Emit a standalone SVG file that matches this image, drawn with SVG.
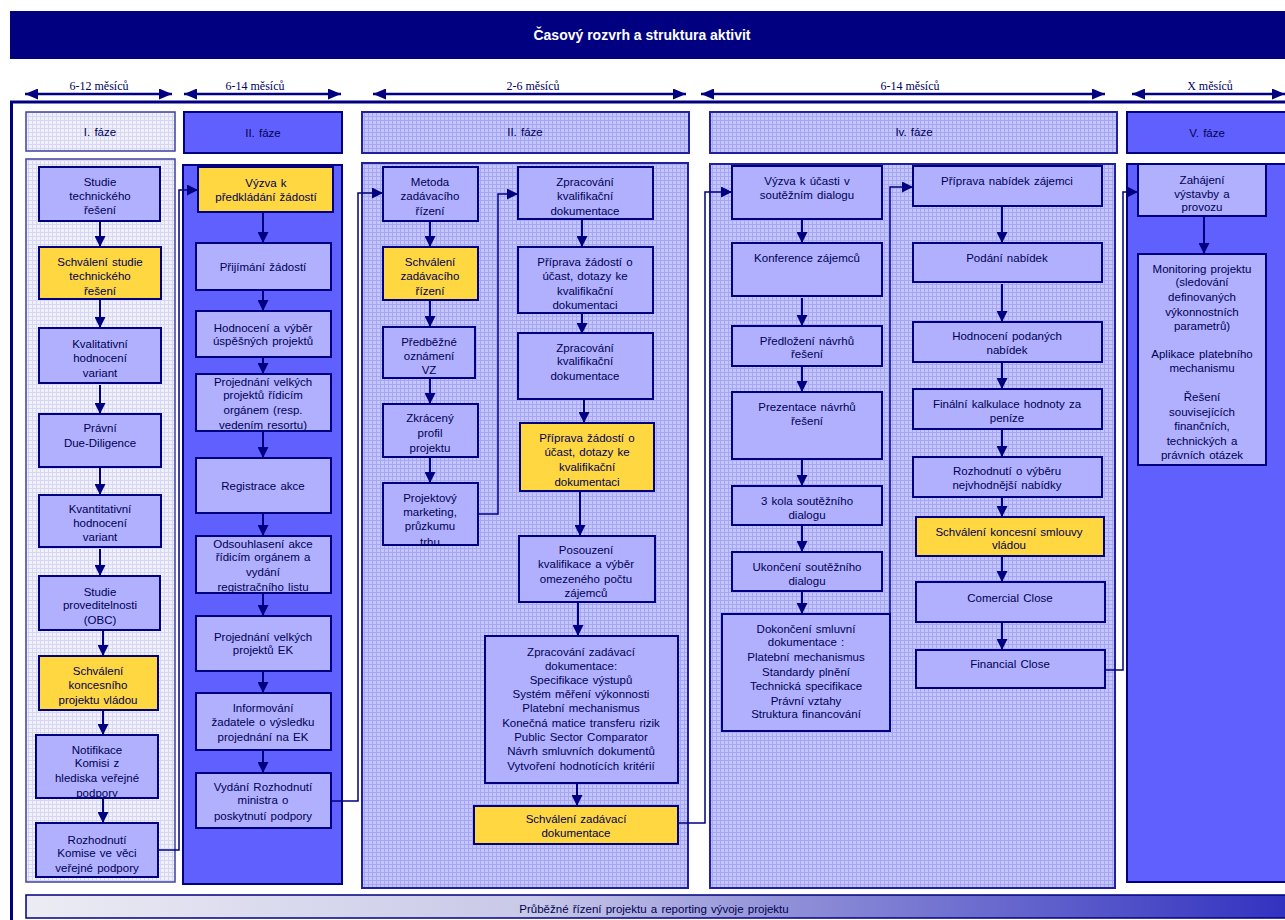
<svg xmlns="http://www.w3.org/2000/svg" width="1285" height="920" viewBox="0 0 1285 920">
<defs>
<style>
.t{font-family:"Liberation Sans",Arial,sans-serif;font-size:11.5px;word-spacing:1px;fill:#000050;text-anchor:middle}
.tl{font-family:"Liberation Serif","Times New Roman",serif;font-size:12px;fill:#000060;text-anchor:middle}
.n{fill:#B0B0FF;stroke:#000080;stroke-width:2}
.y{fill:#FFD740;stroke:#000080;stroke-width:2}
.a{fill:none;stroke:#000080;stroke-width:2;marker-end:url(#ah)}
.c{fill:none;stroke:#000080;stroke-width:1.5;marker-end:url(#ah)}
.tla{fill:none;stroke:#000080;stroke-width:2.5;marker-start:url(#tah);marker-end:url(#tah)}
.g1{fill:url(#p1);stroke:#4040A0;stroke-width:1.5}
.g2{fill:#6060FF;stroke:#000080;stroke-width:2}
.g3{fill:url(#p3);stroke:#2020A0;stroke-width:2}
</style>
<pattern id="p1" width="4" height="4" patternUnits="userSpaceOnUse"><rect width="4" height="4" fill="#F1F1FC"/><path d="M0,0.5H4M0.5,0V4" stroke="#D6D6F2" stroke-width="1"/></pattern>
<pattern id="p3" width="4" height="4" patternUnits="userSpaceOnUse"><rect width="4" height="4" fill="#C6C6FF"/><path d="M0,0.5H4M0.5,0V4" stroke="#A6A6F2" stroke-width="1"/></pattern>
<linearGradient id="bar" x1="0" y1="0" x2="1" y2="0"><stop offset="0" stop-color="#ECECF4"/><stop offset="0.4" stop-color="#C8C8E8"/><stop offset="0.6" stop-color="#9090D8"/><stop offset="1" stop-color="#3030C0"/></linearGradient>
<marker id="ah" viewBox="0 0 10 10" refX="10" refY="5" markerWidth="11" markerHeight="11" markerUnits="userSpaceOnUse" orient="auto"><path d="M0,0L10,5L0,10z" fill="#000080"/></marker>
<marker id="tah" viewBox="0 0 13 11" refX="13" refY="5.5" markerWidth="13" markerHeight="11" markerUnits="userSpaceOnUse" orient="auto-start-reverse"><path d="M0,0L13,5.5L0,11z" fill="#000080"/></marker>
</defs>
<rect width="1285" height="920" fill="#FFFFFF"/>
<g id="title">
<rect x="10" y="11" width="1280" height="48" fill="#000080"/>
<text x="642" y="40" style="font-family:'Liberation Sans',Arial,sans-serif;font-size:14px;font-weight:bold;fill:#FFFFFF;text-anchor:middle">Časový rozvrh a struktura aktivit</text>
</g>
<g id="timeline">
<path class="tla" d="M25,94H172"/><text class="tl" x="99" y="90">6-12 měsíců</text>
<path class="tla" d="M184,94H341"/><text class="tl" x="255" y="90">6-14 měsíců</text>
<path class="tla" d="M373,94H686"/><text class="tl" x="533" y="90">2-6 měsíců</text>
<path class="tla" d="M701,94H1105"/><text class="tl" x="910" y="90">6-14 měsíců</text>
<path class="tla" d="M1132,94H1285"/><text class="tl" x="1210" y="90">X měsíců</text>
</g>
<path id="frame" d="M11.5,921V102H1290" fill="none" stroke="#000080" stroke-width="3"/>
<g id="phases">
<rect class="g1" x="26" y="112" width="149" height="39"/><text class="t" x="100" y="136">I. fáze</text>
<rect class="g2" x="184" y="112" width="158" height="41"/><text class="t" x="263" y="137">II. fáze</text>
<rect class="g3" x="362" y="112" width="327" height="41"/><text class="t" x="525" y="136">II. fáze</text>
<rect class="g3" x="710" y="112" width="407" height="41"/><text class="t" x="914" y="136">Iv. fáze</text>
<rect class="g2" x="1127" y="112" width="170" height="41"/><text class="t" x="1207" y="137">V. fáze</text>
</g>
<g id="columns">
<rect class="g1" x="26" y="159" width="149" height="723"/>
<rect class="g2" x="183" y="165" width="159" height="719"/>
<rect class="g3" x="362" y="163" width="326" height="725"/>
<rect class="g3" x="710" y="164" width="405" height="724"/>
<rect class="g2" x="1127" y="164" width="170" height="718"/>
</g>
<g id="bottom-bar">
<rect x="26" y="895" width="1270" height="23" fill="url(#bar)" stroke="#000080" stroke-width="1.5"/>
<text class="t" x="654" y="913">Průběžné řízení projektu a reporting vývoje projektu</text>
</g>
<g id="connectors">
<path class="a" d="M100,221V247"/>
<path class="a" d="M100,299V328"/>
<path class="a" d="M100,385V414"/>
<path class="a" d="M100,468V495"/>
<path class="a" d="M100,549V576"/>
<path class="a" d="M103,630V656"/>
<path class="a" d="M103,710V735"/>
<path class="a" d="M103,798V823"/>
<path class="a" d="M263,213V243"/>
<path class="a" d="M263,278V311"/>
<path class="a" d="M263,347V374"/>
<path class="a" d="M263,431V458"/>
<path class="a" d="M263,513V536"/>
<path class="a" d="M263,593V616"/>
<path class="a" d="M263,671V693"/>
<path class="a" d="M263,750V773"/>
<path class="a" d="M430,221V247"/>
<path class="a" d="M430,300V327"/>
<path class="a" d="M430,378V404"/>
<path class="a" d="M430,457V483"/>
<path class="a" d="M582,219V247"/>
<path class="a" d="M582,312V334"/>
<path class="a" d="M584,399V423"/>
<path class="a" d="M580,491V536"/>
<path class="a" d="M578,602V636"/>
<path class="a" d="M577,783V806"/>
<path class="a" d="M802,219V243"/>
<path class="a" d="M802,298V326"/>
<path class="a" d="M802,366V392"/>
<path class="a" d="M802,459V486"/>
<path class="a" d="M802,525V552"/>
<path class="a" d="M802,591V614"/>
<path class="a" d="M1002,206V243"/>
<path class="a" d="M1002,284V322"/>
<path class="a" d="M1002,362V389"/>
<path class="a" d="M1002,429V457"/>
<path class="a" d="M1002,497V517"/>
<path class="a" d="M1002,556V582"/>
<path class="a" d="M1002,622V650"/>
<path class="a" d="M1204,216V254"/>
<path class="c" d="M158,850H179V190H198"/>
<path class="c" d="M331,801H358V193H383"/>
<path class="c" d="M478,514H498V194H518"/>
<path class="c" d="M678,823H705V192H732"/>
<path class="c" d="M890,614V187H913"/>
<path class="c" d="M1105,670H1123V192H1138"/>
</g>
<g id="n-studie"><rect class="n" x="39" y="167" width="121" height="54"/><text class="t"><tspan x="100" y="186">Studie</tspan><tspan x="100" y="200">technického</tspan><tspan x="100" y="214">řešení</tspan></text></g>
<g id="n-schvaleni-studie"><rect class="y" x="39" y="247" width="122" height="52"/><text class="t"><tspan x="100" y="266">Schválení studie</tspan><tspan x="100" y="280">technického</tspan><tspan x="100" y="295">řešení</tspan></text></g>
<g id="n-kvalitativni"><rect class="n" x="39" y="328" width="122" height="55"/><text class="t"><tspan x="100" y="348">Kvalitativní</tspan><tspan x="100" y="362">hodnocení</tspan><tspan x="100" y="377">variant</tspan></text></g>
<g id="n-pravni"><rect class="n" x="39" y="414" width="122" height="53"/><text class="t"><tspan x="100" y="432">Právní</tspan><tspan x="100" y="447">Due-Diligence</tspan></text></g>
<g id="n-kvantitativni"><rect class="n" x="39" y="495" width="122" height="52"/><text class="t"><tspan x="100" y="513">Kvantitativní</tspan><tspan x="100" y="527">hodnocení</tspan><tspan x="100" y="541">variant</tspan></text></g>
<g id="n-proveditelnost"><rect class="n" x="39" y="576" width="121" height="54"/><text class="t"><tspan x="100" y="596">Studie</tspan><tspan x="100" y="609">proveditelnosti</tspan><tspan x="100" y="624">(OBC)</tspan></text></g>
<g id="n-schvaleni-koncesniho"><rect class="y" x="39" y="656" width="119" height="54"/><text class="t"><tspan x="98" y="675">Schválení</tspan><tspan x="98" y="689">koncesního</tspan><tspan x="98" y="704">projektu vládou</tspan></text></g>
<g id="n-notifikace"><rect class="n" x="36" y="735" width="122" height="63"/><text class="t"><tspan x="97" y="754">Notifikace</tspan><tspan x="97" y="767">Komisi z</tspan><tspan x="97" y="782">hlediska veřejné</tspan><tspan x="97" y="797">podpory</tspan></text></g>
<g id="n-rozhodnuti-komise"><rect class="n" x="36" y="823" width="122" height="54"/><text class="t"><tspan x="97" y="844">Rozhodnutí</tspan><tspan x="97" y="857">Komise ve věci</tspan><tspan x="97" y="872">veřejné podpory</tspan></text></g>
<g id="n-vyzva"><rect class="y" x="198" y="167" width="135" height="45"/><text class="t"><tspan x="266" y="187">Výzva k</tspan><tspan x="266" y="201">předkládání žádostí</tspan></text></g>
<g id="n-prijimani"><rect class="n" x="196" y="243" width="135" height="47"/><text class="t"><tspan x="263" y="271">Přijímání žádostí</tspan></text></g>
<g id="n-hodnoceni-vyber"><rect class="n" x="196" y="311" width="135" height="46"/><text class="t"><tspan x="263" y="332">Hodnocení a výběr</tspan><tspan x="263" y="345">úspěšných projektů</tspan></text></g>
<g id="n-projednani-ro"><rect class="n" x="196" y="374" width="135" height="57"/><text class="t"><tspan x="263" y="386">Projednání velkých</tspan><tspan x="263" y="399">projektů řídicím</tspan><tspan x="263" y="414">orgánem (resp.</tspan><tspan x="263" y="429">vedením resortu)</tspan></text></g>
<g id="n-registrace"><rect class="n" x="196" y="458" width="135" height="55"/><text class="t"><tspan x="263" y="490">Registrace akce</tspan></text></g>
<g id="n-odsouhlaseni"><rect class="n" x="196" y="536" width="135" height="57"/><text class="t"><tspan x="263" y="548">Odsouhlasení akce</tspan><tspan x="263" y="561">řídicím orgánem a</tspan><tspan x="263" y="576">vydání</tspan><tspan x="263" y="591">registračního listu</tspan></text></g>
<g id="n-projednani-ek"><rect class="n" x="196" y="616" width="135" height="55"/><text class="t"><tspan x="263" y="641">Projednání velkých</tspan><tspan x="263" y="654">projektů EK</tspan></text></g>
<g id="n-informovani"><rect class="n" x="196" y="693" width="135" height="57"/><text class="t"><tspan x="263" y="712">Informování</tspan><tspan x="263" y="726">žadatele o výsledku</tspan><tspan x="263" y="741">projednání na EK</tspan></text></g>
<g id="n-vydani"><rect class="n" x="196" y="773" width="135" height="55"/><text class="t"><tspan x="263" y="791">Vydání Rozhodnutí</tspan><tspan x="263" y="804">ministra o</tspan><tspan x="263" y="820">poskytnutí podpory</tspan></text></g>
<g id="n-metoda"><rect class="n" x="383" y="167" width="95" height="54"/><text class="t"><tspan x="430" y="186">Metoda</tspan><tspan x="430" y="200">zadávacího</tspan><tspan x="430" y="215">řízení</tspan></text></g>
<g id="n-schvaleni-zadavaciho"><rect class="y" x="383" y="247" width="95" height="53"/><text class="t"><tspan x="430" y="266">Schválení</tspan><tspan x="430" y="280">zadávacího</tspan><tspan x="430" y="295">řízení</tspan></text></g>
<g id="n-predbezne"><rect class="n" x="383" y="327" width="92" height="51"/><text class="t"><tspan x="429" y="346">Předběžné</tspan><tspan x="429" y="360">oznámení</tspan><tspan x="429" y="374">VZ</tspan></text></g>
<g id="n-zkraceny"><rect class="n" x="383" y="404" width="95" height="53"/><text class="t"><tspan x="430" y="422">Zkrácený</tspan><tspan x="430" y="437">profil</tspan><tspan x="430" y="452">projektu</tspan></text></g>
<g id="n-marketing"><rect class="n" x="383" y="483" width="95" height="62"/><text class="t"><tspan x="430" y="502">Projektový</tspan><tspan x="430" y="516">marketing,</tspan><tspan x="430" y="530">průzkumu</tspan><tspan x="430" y="546">trhu</tspan></text></g>
<g id="n-zpracovani-kval-1"><rect class="n" x="518" y="167" width="135" height="52"/><text class="t"><tspan x="585" y="186">Zpracování</tspan><tspan x="585" y="200">kvalifikační</tspan><tspan x="585" y="215">dokumentace</tspan></text></g>
<g id="n-priprava-1"><rect class="n" x="518" y="247" width="135" height="66"/><text class="t"><tspan x="585" y="266">Příprava žádostí o</tspan><tspan x="585" y="280">účast, dotazy ke</tspan><tspan x="585" y="295">kvalifikační</tspan><tspan x="585" y="309">dokumentaci</tspan></text></g>
<g id="n-zpracovani-kval-2"><rect class="n" x="518" y="333" width="135" height="66"/><text class="t"><tspan x="585" y="352">Zpracování</tspan><tspan x="585" y="365">kvalifikační</tspan><tspan x="585" y="380">dokumentace</tspan></text></g>
<g id="n-priprava-2"><rect class="y" x="520" y="423" width="134" height="68"/><text class="t"><tspan x="587" y="442">Příprava žádostí o</tspan><tspan x="587" y="456">účast, dotazy ke</tspan><tspan x="587" y="471">kvalifikační</tspan><tspan x="587" y="486">dokumentaci</tspan></text></g>
<g id="n-posouzeni"><rect class="n" x="519" y="536" width="136" height="66"/><text class="t"><tspan x="586" y="554">Posouzení</tspan><tspan x="586" y="568">kvalifikace a výběr</tspan><tspan x="586" y="583">omezeného počtu</tspan><tspan x="586" y="597">zájemců</tspan></text></g>
<g id="n-zadavaci-dokumentace"><rect class="n" x="485" y="636" width="193" height="147"/><text class="t"><tspan x="581" y="656">Zpracování zadávací</tspan><tspan x="581" y="670">dokumentace:</tspan><tspan x="581" y="684">Specifikace výstupů</tspan><tspan x="581" y="698">Systém měření výkonnosti</tspan><tspan x="581" y="712">Platební mechanismus</tspan><tspan x="581" y="727">Konečná matice transferu rizik</tspan><tspan x="581" y="741">Public Sector Comparator</tspan><tspan x="581" y="755">Návrh smluvních dokumentů</tspan><tspan x="581" y="770">Vytvoření hodnotících kritérií</tspan></text></g>
<g id="n-schvaleni-zadavaci-dok"><rect class="y" x="474" y="806" width="204" height="38"/><text class="t"><tspan x="576" y="823">Schválení zadávací</tspan><tspan x="576" y="837">dokumentace</tspan></text></g>
<g id="n-vyzva-ucasti"><rect class="n" x="732" y="166" width="150" height="53"/><text class="t"><tspan x="807" y="185">Výzva k účasti v</tspan><tspan x="807" y="199">soutěžním dialogu</tspan></text></g>
<g id="n-konference"><rect class="n" x="732" y="243" width="150" height="53"/><text class="t"><tspan x="807" y="262">Konference zájemců</tspan></text></g>
<g id="n-predlozeni"><rect class="n" x="732" y="326" width="150" height="40"/><text class="t"><tspan x="807" y="345">Předložení návrhů</tspan><tspan x="807" y="358">řešení</tspan></text></g>
<g id="n-prezentace"><rect class="n" x="732" y="392" width="150" height="67"/><text class="t"><tspan x="807" y="411">Prezentace návrhů</tspan><tspan x="807" y="425">řešení</tspan></text></g>
<g id="n-3-kola"><rect class="n" x="732" y="486" width="150" height="39"/><text class="t"><tspan x="807" y="505">3 kola soutěžního</tspan><tspan x="807" y="519">dialogu</tspan></text></g>
<g id="n-ukonceni"><rect class="n" x="732" y="552" width="150" height="39"/><text class="t"><tspan x="807" y="571">Ukončení soutěžního</tspan><tspan x="807" y="585">dialogu</tspan></text></g>
<g id="n-dokonceni"><rect class="n" x="722" y="614" width="168" height="117"/><text class="t"><tspan x="806" y="633">Dokončení smluvní</tspan><tspan x="806" y="646">dokumentace :</tspan><tspan x="806" y="661">Platební mechanismus</tspan><tspan x="806" y="676">Standardy plnění</tspan><tspan x="806" y="690">Technická specifikace</tspan><tspan x="806" y="705">Právní vztahy</tspan><tspan x="806" y="718">Struktura financování</tspan></text></g>
<g id="n-priprava-nabidek"><rect class="n" x="913" y="166" width="189" height="40"/><text class="t"><tspan x="1007" y="185">Příprava nabídek zájemci</tspan></text></g>
<g id="n-podani"><rect class="n" x="913" y="243" width="189" height="39"/><text class="t"><tspan x="1007" y="262">Podání nabídek</tspan></text></g>
<g id="n-hodnoceni-nabidek"><rect class="n" x="913" y="322" width="189" height="40"/><text class="t"><tspan x="1007" y="340">Hodnocení podaných</tspan><tspan x="1007" y="354">nabídek</tspan></text></g>
<g id="n-finalni"><rect class="n" x="913" y="389" width="189" height="40"/><text class="t"><tspan x="1007" y="408">Finální kalkulace hodnoty za</tspan><tspan x="1007" y="422">peníze</tspan></text></g>
<g id="n-rozhodnuti-vyber"><rect class="n" x="913" y="457" width="189" height="40"/><text class="t"><tspan x="1007" y="475">Rozhodnutí o výběru</tspan><tspan x="1007" y="489">nejvhodnější nabídky</tspan></text></g>
<g id="n-schvaleni-smlouvy"><rect class="y" x="916" y="517" width="188" height="39"/><text class="t"><tspan x="1009" y="536">Schválení koncesní smlouvy</tspan><tspan x="1009" y="549">vládou</tspan></text></g>
<g id="n-comercial"><rect class="n" x="916" y="582" width="189" height="40"/><text class="t"><tspan x="1010" y="602">Comercial Close</tspan></text></g>
<g id="n-financial"><rect class="n" x="916" y="650" width="189" height="38"/><text class="t"><tspan x="1010" y="668">Financial Close</tspan></text></g>
<g id="n-zahajeni"><rect class="n" x="1138" y="164" width="128" height="52"/><text class="t"><tspan x="1202" y="184">Zahájení</tspan><tspan x="1202" y="198">výstavby a</tspan><tspan x="1202" y="211">provozu</tspan></text></g>
<g id="n-monitoring"><rect class="n" x="1138" y="254" width="128" height="211"/><text class="t"><tspan x="1202" y="273">Monitoring projektu</tspan><tspan x="1202" y="286">(sledování</tspan><tspan x="1202" y="301">definovaných</tspan><tspan x="1202" y="316">výkonnostních</tspan><tspan x="1202" y="330">parametrů)</tspan><tspan x="1202" y="358">Aplikace platebního</tspan><tspan x="1202" y="372">mechanismu</tspan><tspan x="1202" y="401">Řešení</tspan><tspan x="1202" y="416">souvisejících</tspan><tspan x="1202" y="430">finančních,</tspan><tspan x="1202" y="445">technických a</tspan><tspan x="1202" y="459">právních otázek</tspan></text></g>
</svg>
